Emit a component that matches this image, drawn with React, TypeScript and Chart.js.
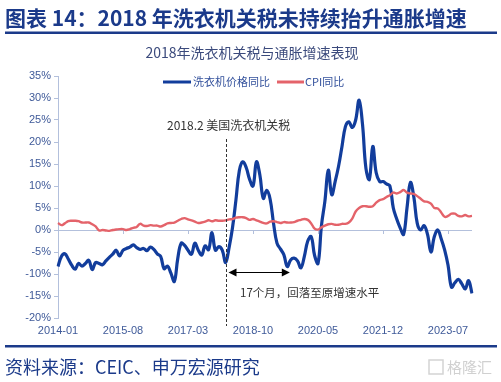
import React, { useEffect, useRef } from 'react';
import { Chart, registerables } from 'chart.js';

Chart.register(...registerables);

// Washing machine price YoY (%), monthly 2014-01 .. 2024-02
const WASHER_YOY = [
  -8.3, -6.0, -5.4, -6.6, -8.0, -8.9, -7.6, -8.2, -7.6, -6.9, -9.0, -7.4,
  -7.6, -7.9, -7.0, -6.2, -5.5, -4.6, -5.9, -4.6, -4.2, -3.9, -3.4, -4.0,
  -4.4, -4.2, -4.7, -3.9, -4.4, -5.4, -6.0, -8.8, -8.2, -9.8, -11.7, -6.5,
  -3.0, -3.5, -4.6, -5.5, -3.0, -4.6, -5.7, -3.6, -4.5, -0.6, -4.6, -3.8,
  -4.6, -7.4, -4.0, 0.5, 6.8, 13.5, 15.5, 14.2, 11.5, 10.0, 15.5, 12.5,
  7.2, 9.0, 7.0, 1.5, -3.0, -4.3, -5.6, -8.3, -6.8, -6.4, -7.0, -8.6,
  -6.0, -2.5, -1.5, -5.8, -7.6, 1.0, 6.5, 13.6, 8.0, 11.0, 14.5, 19.0,
  23.5, 24.6, 23.3, 25.0, 29.5, 24.0, 14.0, 11.5, 19.0, 13.0, 11.0, 11.0,
  10.5, 10.0, 5.0, 2.5, 0.5, -1.0, 5.0, 10.8, 7.5, 1.5, 0.0, 1.0,
  -1.0, -5.0, -1.5, 0.0, -2.0, -4.5, -8.0, -13.0, -12.0, -11.2, -12.2, -13.4,
  -11.5, -14.4,
];

// CPI YoY (%), monthly 2014-01 .. 2024-02
const CPI_YOY = [
  1.6, 1.1, 1.5, 2.0, 2.1, 2.1, 2.0, 1.7, 1.7, 1.7, 1.3, 0.8,
  -0.1, 0.0, -0.1, -0.2, 0.0, 0.1, 0.2, 0.2, 0.0, 0.2, 0.5, 0.7,
  1.4, 1.0, 0.9, 1.1, 1.0, 1.0, 0.8, 1.1, 1.5, 1.6, 1.7, 2.1,
  2.5, 2.7, 2.4, 2.2, 1.9, 1.6, 1.7, 1.9, 2.2, 2.0, 2.2, 2.1,
  2.1, 2.2, 2.4, 2.5, 2.8, 2.9, 2.9, 2.7, 2.3, 2.5, 2.2, 1.9,
  1.6, 1.5, 1.9, 2.0, 1.8, 1.6, 1.8, 1.7, 1.7, 1.8, 2.1, 2.3,
  2.5, 2.3, 1.5, 0.3, 0.1, 0.6, 1.0, 1.3, 1.4, 1.2, 1.2, 1.4,
  1.4, 1.7, 2.6, 4.2, 5.0, 5.4, 5.4, 5.3, 5.4, 6.2, 6.8, 7.0,
  7.5, 7.9, 8.5, 8.3, 8.6, 9.1, 8.5, 8.3, 8.2, 7.7, 7.1, 6.5,
  6.4, 6.0, 5.0, 4.9, 4.0, 3.0, 3.2, 3.7, 3.7, 3.2, 3.1, 3.4,
  3.1, 3.2,
];

const X_TICK_LABELS = ['2014-01', '2015-08', '2017-03', '2018-10', '2020-05', '2021-12', '2023-07'];
const Y_MIN = -20;
const Y_MAX = 35;
const Y_STEP = 5;
const TARIFF_MONTH = '2018-02';
const RECOVERY_MONTHS = 17;

const SERIES_NAMES = ['洗衣机价格同比', 'CPI同比'];
const TITLE = '图表 14：2018 年洗衣机关税未持续抬升通胀增速';
const SUBTITLE = '2018年洗衣机关税与通胀增速表现';
const NOTE_TARIFF = '2018.2 美国洗衣机关税';
const NOTE_RECOVERY = '17个月，回落至原增速水平';
const SOURCE = '资料来源：CEIC、申万宏源研究';

function monthLabels(startYear: number, startMonth: number, n: number): string[] {
  const out: string[] = [];
  let y = startYear;
  let m = startMonth;
  for (let i = 0; i < n; i++) {
    out.push(`${y}-${String(m).padStart(2, '0')}`);
    m++;
    if (m > 12) { m = 1; y++; }
  }
  return out;
}

const MONTHS = monthLabels(2014, 1, WASHER_YOY.length);

const NAVY = '#1b3a8a';
const BLUE_LINE = '#123d9c';
const RED_LINE = '#e4636a';
const AXIS = '#b3c0dc';
const TICK_TEXT = '#3f5a99';
const CJK = '"Noto Sans CJK SC", "Liberation Sans", sans-serif';
const LAT = '"Liberation Sans", Arial, sans-serif';

const overlay = {
  id: 'overlay',
  beforeDraw(chart: any) {
    const ctx = chart.ctx;
    ctx.save();
    ctx.fillStyle = '#ffffff';
    ctx.fillRect(0, 0, chart.width, chart.height);
    ctx.restore();
  },
  beforeDatasetsDraw(chart: any) {
    const ctx = chart.ctx;
    const xs = chart.scales.x;
    const ys = chart.scales.y;
    const y0 = ys.getPixelForValue(0);
    ctx.save();
    ctx.strokeStyle = AXIS;
    ctx.lineWidth = 1;
    ctx.beginPath();
    ctx.moveTo(chart.chartArea.left, y0 + 0.5);
    ctx.lineTo(chart.chartArea.right, y0 + 0.5);
    ctx.stroke();
    X_TICK_LABELS.forEach((lab) => {
      const idx = MONTHS.indexOf(lab);
      if (idx < 0) return;
      const px = Math.round(xs.getPixelForValue(idx)) + 0.5;
      ctx.beginPath();
      ctx.moveTo(px, y0);
      ctx.lineTo(px, y0 + 4);
      ctx.stroke();
    });
    ctx.restore();
  },
  afterDatasetsDraw(chart: any) {
    const ctx = chart.ctx;
    const xs = chart.scales.x;
    const ys = chart.scales.y;
    const ti = MONTHS.indexOf(TARIFF_MONTH);
    const tx = Math.round(xs.getPixelForValue(ti)) + 0.5;
    ctx.save();
    // dashed vertical marker
    ctx.strokeStyle = '#333333';
    ctx.lineWidth = 1;
    ctx.setLineDash([3, 2]);
    ctx.beginPath();
    ctx.moveTo(tx, 139);
    ctx.lineTo(tx, 326);
    ctx.stroke();
    ctx.setLineDash([]);
    // arrow
    const ay = Math.round(ys.getPixelForValue(-9.5)) + 0.5;
    const ax1 = tx + 2;
    const ax2 = xs.getPixelForValue(ti + RECOVERY_MONTHS) + 6;
    ctx.strokeStyle = '#000000';
    ctx.fillStyle = '#000000';
    ctx.beginPath();
    ctx.moveTo(ax1 + 6, ay);
    ctx.lineTo(ax2 - 6, ay);
    ctx.stroke();
    ctx.beginPath();
    ctx.moveTo(ax1, ay);
    ctx.lineTo(ax1 + 8, ay - 4);
    ctx.lineTo(ax1 + 8, ay + 4);
    ctx.closePath();
    ctx.fill();
    ctx.beginPath();
    ctx.moveTo(ax2, ay);
    ctx.lineTo(ax2 - 8, ay - 4);
    ctx.lineTo(ax2 - 8, ay + 4);
    ctx.closePath();
    ctx.fill();
    // notes
    ctx.fillStyle = '#333333';
    ctx.textBaseline = 'middle';
    ctx.textAlign = 'left';
    ctx.font = `12px ${CJK}`;
    ctx.fillText(NOTE_TARIFF, 167, 125);
    ctx.font = `11.5px ${CJK}`;
    ctx.fillText(NOTE_RECOVERY, 240, 293);
    ctx.restore();
  },
  afterDraw(chart: any) {
    const ctx = chart.ctx;
    ctx.save();
    ctx.textBaseline = 'middle';
    // title
    ctx.fillStyle = NAVY;
    ctx.textAlign = 'left';
    ctx.font = `bold 21px ${CJK}`;
    ctx.fillText(TITLE, 5, 18);
    ctx.fillRect(5, 31.5, 492, 2.5);
    // subtitle
    ctx.fillStyle = '#3b4a7c';
    ctx.textAlign = 'center';
    ctx.font = `14px ${CJK}`;
    ctx.fillText(SUBTITLE, 252, 53);
    // legend
    ctx.textAlign = 'left';
    ctx.font = `11px ${CJK}`;
    ctx.lineWidth = 3;
    ctx.strokeStyle = BLUE_LINE;
    ctx.beginPath();
    ctx.moveTo(163, 82);
    ctx.lineTo(191, 82);
    ctx.stroke();
    ctx.fillStyle = '#33519c';
    ctx.fillText(SERIES_NAMES[0], 193, 82);
    ctx.strokeStyle = RED_LINE;
    ctx.beginPath();
    ctx.moveTo(277, 82);
    ctx.lineTo(304, 82);
    ctx.stroke();
    ctx.fillText(SERIES_NAMES[1], 305, 82);
    // bottom rule + source
    ctx.fillStyle = NAVY;
    ctx.fillRect(5, 345, 492, 2.5);
    ctx.font = `18px ${CJK}`;
    ctx.fillText(SOURCE, 5, 367);
    // watermark
    ctx.strokeStyle = '#d4d4d4';
    ctx.lineWidth = 1.5;
    ctx.beginPath();
    ctx.rect(429, 360, 14, 14);
    ctx.stroke();
    ctx.fillStyle = '#d0d0d0';
    ctx.font = `15px ${CJK}`;
    ctx.fillText('格隆汇', 447, 367);
    ctx.restore();
  },
};

export default function App() {
  const ref = useRef<HTMLCanvasElement | null>(null);
  useEffect(() => {
    if (!ref.current) return;
    const chart = new Chart(ref.current, {
      type: 'line',
      data: {
        labels: MONTHS,
        datasets: [
          {
            label: SERIES_NAMES[0],
            data: WASHER_YOY,
            borderColor: BLUE_LINE,
            borderWidth: 3.2,
            pointRadius: 0,
            tension: 0.4,
            fill: false,
            order: 1,
          },
          {
            label: SERIES_NAMES[1],
            data: CPI_YOY,
            borderColor: RED_LINE,
            borderWidth: 2.4,
            pointRadius: 0,
            tension: 0.4,
            fill: false,
            order: 0,
          },
        ],
      },
      options: {
        animation: false,
        responsive: false,
        devicePixelRatio: 1,
        layout: { padding: { left: 0, right: 29, top: 76, bottom: 42 } },
        plugins: { legend: { display: false }, tooltip: { enabled: false }, title: { display: false } },
        scales: {
          x: {
            type: 'category',
            grid: { display: false, drawTicks: false },
            border: { display: false },
            ticks: {
              autoSkip: false,
              maxRotation: 0,
              minRotation: 0,
              padding: 6,
              color: TICK_TEXT,
              font: { family: LAT, size: 11 },
              callback: (_v: any, i: number) => (X_TICK_LABELS.includes(MONTHS[i]) ? MONTHS[i] : null),
            },
            afterFit: (s: any) => { s.height = 22; },
          },
          y: {
            min: Y_MIN,
            max: Y_MAX,
            grid: { display: true, drawOnChartArea: false, drawTicks: true, tickLength: 4, color: AXIS, tickColor: AXIS },
            border: { display: true, color: AXIS },
            ticks: {
              stepSize: Y_STEP,
              padding: 3,
              color: TICK_TEXT,
              font: { family: LAT, size: 11 },
              callback: (v: any) => `${v}%`,
            },
            afterFit: (s: any) => { s.width = 58; },
          },
        },
      },
      plugins: [overlay],
    });
    return () => chart.destroy();
  }, []);
  return (
    <div style={{ position: 'fixed', left: 0, top: 0, width: 501, height: 382, background: '#fff' }}>
      <canvas ref={ref} width={501} height={382} style={{ display: 'block', width: 501, height: 382 }} />
    </div>
  );
}
